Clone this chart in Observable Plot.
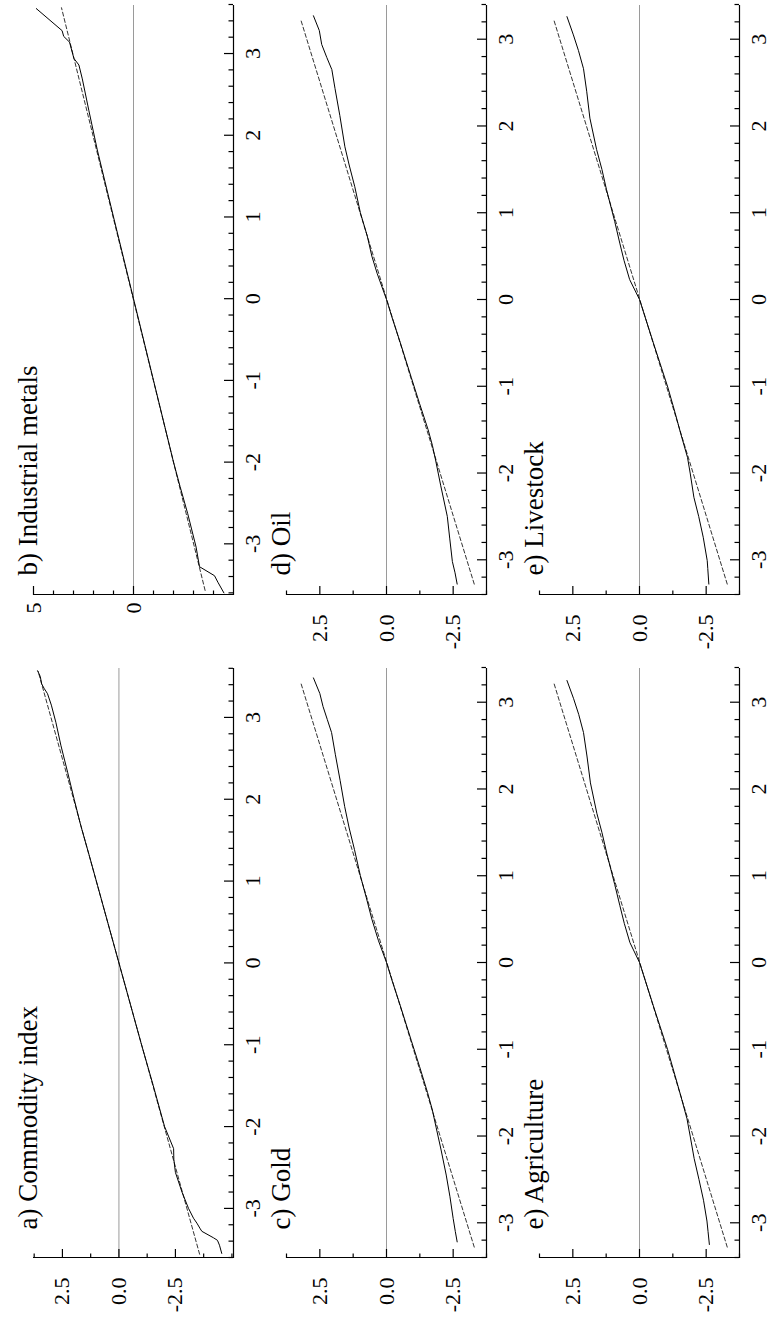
<!DOCTYPE html>
<html><head><meta charset="utf-8">
<script src="https://cdn.jsdelivr.net/npm/d3@7"></script>
<script src="https://cdn.jsdelivr.net/npm/@observablehq/plot@0.6"></script>
<style>
html,body{margin:0;padding:0;background:#fff;width:769px;height:1331px;overflow:hidden;}
#fig{position:absolute;left:0;top:0;width:1331px;height:769px;transform-origin:0 0;transform:translateY(1331px) rotate(-90deg);}
.panel{position:absolute;}
</style></head><body><div id="fig"></div><script>
// ---- data (theoretical quantile x, empirical quantile y) ----
const titles = ["a) Commodity index", "b) Industrial metals", "c) Gold", "d) Oil", "e) Agriculture", "e) Livestock"];
const xTickLabels = [-3, -2, -1, 0, 1, 2, 3];

const commodityX = [-3.55, -3.45, -3.39, -3.36, -3.28, -3.25, -3.18, -3.12, -3.0, -2.8, -2.56, -2.4, -2.27, -2.0, -1.5, -1.0, -0.5, 0, 0.5, 0.95, 1.3, 1.68, 2.0, 2.33, 2.66, 2.94, 3.15, 3.29, 3.35, 3.41, 3.5, 3.57];
const commodityY = [-4.55, -4.45, -4.36, -4.19, -3.67, -3.6, -3.45, -3.3, -3.08, -2.79, -2.5, -2.43, -2.42, -2.02, -1.52, -1.0, -0.5, 0, 0.5, 0.95, 1.3, 1.69, 1.98, 2.27, 2.57, 2.79, 2.99, 3.16, 3.3, 3.42, 3.48, 3.6];
const commodityRefX = [-3.56, 3.56];
const commodityRefY = [-3.57, 3.57];

const metalsX = [-3.6, -3.47, -3.39, -3.28, -3.04, -2.63, -2.3, -2.0, -1.0, 0, 1.0, 1.82, 2.3, 2.69, 2.86, 2.94, 3.14, 3.21, 3.28, 3.55];
const metalsY = [-4.52, -4.22, -4.05, -3.3, -3.13, -2.71, -2.33, -2.0, -1.0, 0, 1.0, 1.81, 2.23, 2.56, 2.73, 2.98, 3.2, 3.49, 3.57, 4.86];
const metalsRefX = [-3.57, 3.56];
const metalsRefY = [-3.58, 3.6];

const goldX = [-3.22, -3.1, -2.95, -2.7, -2.45, -2.15, -1.9, -1.7, -1.5, -1.2, -0.9, -0.5, -0.2, 0, 0.25, 0.5, 0.75, 1.0, 1.3, 1.55, 1.8, 2.1, 2.4, 2.65, 2.8, 2.95, 3.1, 3.28];
const goldY = [-2.65, -2.58, -2.5, -2.38, -2.24, -2.04, -1.86, -1.72, -1.54, -1.24, -0.93, -0.52, -0.2, 0, 0.3, 0.55, 0.76, 0.98, 1.2, 1.4, 1.57, 1.74, 1.92, 2.06, 2.22, 2.38, 2.5, 2.74];

const oilX = [-3.28, -3.15, -3.02, -2.75, -2.5, -2.14, -1.85, -1.68, -1.5, -1.2, -0.9, -0.5, -0.2, 0, 0.3, 0.5, 0.73, 1.0, 1.3, 1.55, 1.76, 2.12, 2.43, 2.65, 2.79, 2.94, 3.1, 3.27];
const oilY = [-2.65, -2.57, -2.47, -2.37, -2.28, -2.03, -1.84, -1.72, -1.56, -1.24, -0.93, -0.52, -0.2, 0, 0.35, 0.55, 0.72, 0.98, 1.19, 1.4, 1.56, 1.75, 1.93, 2.05, 2.24, 2.43, 2.52, 2.74];

const agriX = [-3.25, -3.1, -2.98, -2.74, -2.5, -2.26, -2.0, -1.8, -1.55, -1.3, -1.0, -0.5, 0, 0.23, 0.45, 0.66, 0.9, 1.25, 1.5, 1.72, 2.07, 2.38, 2.65, 2.86, 3.04, 3.25];
const agriY = [-2.62, -2.57, -2.53, -2.4, -2.23, -2.05, -1.9, -1.78, -1.56, -1.33, -1.05, -0.52, 0, 0.36, 0.57, 0.74, 0.93, 1.22, 1.41, 1.6, 1.84, 1.97, 2.1, 2.28, 2.47, 2.72];

const liveX = [-3.28, -3.1, -3.01, -2.74, -2.5, -2.28, -2.0, -1.82, -1.55, -1.3, -1.01, -0.5, 0, 0.23, 0.45, 0.65, 0.9, 1.27, 1.5, 1.73, 2.09, 2.4, 2.66, 2.87, 3.05, 3.26];
const liveY = [-2.6, -2.56, -2.54, -2.39, -2.22, -2.04, -1.9, -1.8, -1.55, -1.33, -1.06, -0.52, 0, 0.37, 0.58, 0.74, 0.93, 1.24, 1.41, 1.61, 1.86, 1.98, 2.1, 2.29, 2.48, 2.72];

const refX = [-3.28, 3.23];
const refY = [-3.29, 3.22];

const yTicksA = [2.5, 0, -2.5];
const yMinorA = [3.75, 1.25, -1.25, -3.75, -5];
const yTicksB = [5, 0];
const yMinorB = [4, 3, 2, 1, -1, -2, -3, -4];
const yTicksC = [2.5, 0, -2.5];
const yMinorC = [3.75, 1.25, -1.25, -3.75];

// ---- layout ----
const FONT = "'Liberation Serif', 'Times New Roman', Times, serif";
const W = 665, H = 256, MT = 33, MB = 23, ML = 73, MR = 2;
const TICK_MAJOR = 9, TICK_MINOR = 4.5, LABEL_SIZE = 22;

const panels = [
  {title: titles[0], qx: commodityX, qy: commodityY, rx: commodityRefX, ry: commodityRefY, xd: [-3.6, 3.61], yd: [-5.07, 3.78], yt: yTicksA, ym: yMinorA, fmt: d => d.toFixed(1), gap: 20, col: 0, row: 0},
  {title: titles[1], qx: metalsX, qy: metalsY, rx: metalsRefX, ry: metalsRefY, xd: [-3.62, 3.6], yd: [-5, 5], yt: yTicksB, ym: yMinorB, fmt: d => String(d), gap: 8, col: 1, row: 0},
  {title: titles[2], qx: goldX, qy: goldY, rx: refX, ry: refY, xd: [-3.4, 3.4], yd: [-3.75, 3.75], yt: yTicksC, ym: yMinorC, fmt: d => d.toFixed(1), gap: 20, col: 0, row: 1},
  {title: titles[3], qx: oilX, qy: oilY, rx: refX, ry: refY, xd: [-3.4, 3.4], yd: [-3.75, 3.75], yt: yTicksC, ym: yMinorC, fmt: d => d.toFixed(1), gap: 20, col: 1, row: 1},
  {title: titles[4], qx: agriX, qy: agriY, rx: refX, ry: refY, xd: [-3.4, 3.4], yd: [-3.75, 3.75], yt: yTicksC, ym: yMinorC, fmt: d => d.toFixed(1), gap: 20, col: 0, row: 2},
  {title: titles[5], qx: liveX, qy: liveY, rx: refX, ry: refY, xd: [-3.4, 3.4], yd: [-3.75, 3.75], yt: yTicksC, ym: yMinorC, fmt: d => d.toFixed(1), gap: 20, col: 1, row: 2}
];

const fig = document.getElementById("fig");
for (const p of panels) {
  const solid = p.qx.map((x, i) => ({x, y: p.qy[i]}));
  const ref = p.rx.map((x, i) => ({x, y: p.ry[i]}));
  const xMinor = d3.range(Math.ceil(p.xd[0] * 5), Math.floor(p.xd[1] * 5) + 1).map(k => +(k / 5).toFixed(2)).filter(v => Math.abs(v - Math.round(v)) > 1e-9);
  const xMajor = xTickLabels;
  const y0 = p.yd[0], x0 = p.xd[0];
  const chart = Plot.plot({
    width: W, height: H,
    marginLeft: ML, marginRight: MR, marginTop: MT, marginBottom: MB,
    style: {background: "transparent", overflow: "visible", fontFamily: FONT, color: "#000"},
    x: {domain: p.xd, label: null, axis: null},
    y: {domain: p.yd, label: null, axis: null},
    marks: [
      Plot.ruleY([0], {stroke: "#9a9a9a", strokeWidth: 1}),
      Plot.line(ref, {x: "x", y: "y", stroke: "#333", strokeWidth: 1, strokeDasharray: "4,2.5"}),
      Plot.line(solid, {x: "x", y: "y", stroke: "#000", strokeWidth: 1}),
      // axis lines
      Plot.ruleY([y0], {stroke: "#000", strokeWidth: 1.2}),
      Plot.ruleX([x0], {stroke: "#000", strokeWidth: 1.2}),
      // inward x ticks
      Plot.ruleX(xMinor, {x: d => d, y1: y0, y2: y0, insetTop: -TICK_MINOR, stroke: "#000", strokeWidth: 1.2}),
      Plot.ruleX(xMajor, {x: d => d, y1: y0, y2: y0, insetTop: -TICK_MAJOR, stroke: "#000", strokeWidth: 1.2}),
      // inward y ticks
      Plot.ruleY(p.ym, {y: d => d, x1: x0, x2: x0, insetRight: -TICK_MINOR, stroke: "#000", strokeWidth: 1.2}),
      Plot.ruleY(p.yt, {y: d => d, x1: x0, x2: x0, insetRight: -TICK_MAJOR, stroke: "#000", strokeWidth: 1.2}),
      // tick labels
      Plot.axisX(xMajor, {tickSize: 0, tickPadding: 11, tickFormat: d => String(d), fontSize: LABEL_SIZE, label: null}),
      Plot.axisY(p.yt, {tickSize: 0, tickPadding: p.gap, tickFormat: p.fmt, fontSize: LABEL_SIZE, label: null}),
      Plot.text([p.title], {frameAnchor: "top-left", dx: p.col === 0 ? 28 : 19, dy: -16, lineAnchor: "top", textAnchor: "start", fontSize: 27, fill: "#000"})
    ]
  });
  chart.classList.add("panel");
  chart.style.left = (p.col * 663) + "px";
  chart.style.top = (p.row * 253) + "px";
  fig.appendChild(chart);
}
</script></body></html>
